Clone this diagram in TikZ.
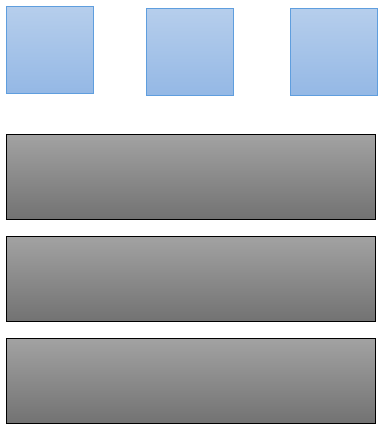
\documentclass[tikz,border=0pt]{standalone}
\usepackage{tikz}
\usetikzlibrary{positioning}
\definecolor{sqtop}{RGB}{182,206,236}
\definecolor{sqbot}{RGB}{148,184,229}
\definecolor{sqline}{RGB}{95,158,222}
\definecolor{bartop}{RGB}{162,162,162}
\definecolor{barbot}{RGB}{114,114,114}

\begin{document}
\begin{tikzpicture}[
  x=1pt, y=-1pt,
  square/.style={draw=sqline, line width=1.2pt, top color=sqtop,
                 bottom color=sqbot, minimum width=87pt,
                 minimum height=87pt, inner sep=0pt, anchor=north west},
  bar/.style={draw=black, line width=1.2pt, top color=bartop,
              bottom color=barbot, minimum width=369pt,
              minimum height=85pt, inner sep=0pt, anchor=north west}
]
\useasboundingbox (0,0) rectangle (378,425);
\clip (0,0) rectangle (378,425);
\node[square] (s1) at (6,6) {};
\node[square] (s2) at (146,8) {};
\node[square] (s3) at (290,8) {};

\node[bar] (b1) at (6,134) {};
\node[bar] (b2) at (6,236) {};
\node[bar] (b3) at (6,338) {};
\end{tikzpicture}
\end{document}
